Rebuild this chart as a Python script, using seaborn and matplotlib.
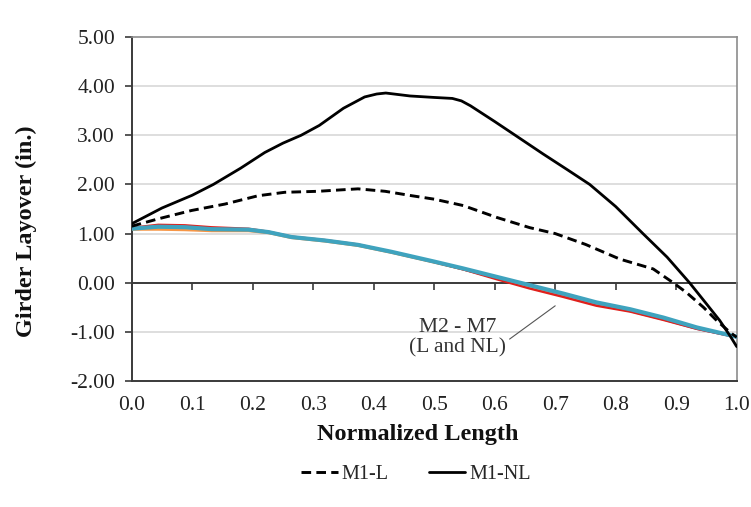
import numpy as np
import pandas as pd
import matplotlib
matplotlib.use("Agg")
import matplotlib.pyplot as plt
import seaborn as sns

# ---- data ----
m1nl_x = [0.0, 0.05, 0.10, 0.135, 0.18, 0.22, 0.25, 0.28, 0.31, 0.35, 0.385, 0.405, 0.42, 0.44, 0.46, 0.50,
          0.53, 0.545, 0.56, 0.60, 0.634, 0.68, 0.72, 0.757, 0.80, 0.845, 0.885, 0.922, 0.95, 0.972, 0.99, 1.0]
m1nl_y = [1.20, 1.52, 1.78, 2.00, 2.33, 2.65, 2.84, 3.00, 3.20, 3.55, 3.78, 3.84, 3.86, 3.83, 3.80, 3.77,
          3.75, 3.70, 3.60, 3.28, 3.00, 2.62, 2.30, 2.00, 1.55, 1.00, 0.52, 0.00, -0.43, -0.77, -1.10, -1.30]

m1l_x = [0.0, 0.044, 0.099, 0.154, 0.209, 0.253, 0.308, 0.347, 0.374, 0.419, 0.463, 0.50, 0.548,
         0.603, 0.658, 0.70, 0.75, 0.807, 0.862, 0.895, 0.917, 0.945, 0.967, 0.989, 1.0]
m1l_y = [1.15, 1.30, 1.47, 1.60, 1.77, 1.84, 1.86, 1.89, 1.91, 1.86, 1.77, 1.70, 1.57,
         1.33, 1.12, 1.00, 0.78, 0.48, 0.28, 0.00, -0.20, -0.50, -0.77, -1.01, -1.11]

grp_x = [0.0, 0.044, 0.088, 0.132, 0.193, 0.226, 0.264, 0.319, 0.374, 0.429, 0.50, 0.548,
         0.603, 0.658, 0.713, 0.768, 0.824, 0.879, 0.934, 1.0]
m2_y = [1.10, 1.13, 1.12, 1.08, 1.07, 1.02, 0.93, 0.86, 0.76, 0.62, 0.42, 0.28, 0.10, -0.08, -0.25, -0.43, -0.56, -0.73, -0.93, -1.10]
m3_y = [1.12, 1.18, 1.17, 1.13, 1.10, 1.04, 0.94, 0.87, 0.78, 0.63, 0.42, 0.27, 0.07, -0.12, -0.29, -0.47, -0.59, -0.76, -0.94, -1.11]
m4_y = [1.10, 1.12, 1.11, 1.08, 1.07, 1.02, 0.92, 0.85, 0.76, 0.62, 0.42, 0.28, 0.11, -0.07, -0.23, -0.42, -0.55, -0.72, -0.92, -1.10]
m5_y = [1.11, 1.14, 1.13, 1.10, 1.08, 1.03, 0.93, 0.86, 0.77, 0.62, 0.42, 0.27, 0.09, -0.09, -0.26, -0.44, -0.58, -0.75, -0.94, -1.11]
m6_y = [1.08, 1.08, 1.07, 1.05, 1.05, 1.01, 0.91, 0.84, 0.75, 0.61, 0.41, 0.27, 0.10, -0.08, -0.24, -0.42, -0.55, -0.72, -0.92, -1.10]
m7_y = [1.10, 1.14, 1.13, 1.09, 1.08, 1.03, 0.93, 0.86, 0.77, 0.63, 0.43, 0.29, 0.12, -0.05, -0.22, -0.40, -0.54, -0.71, -0.91, -1.10]

group_names = ["M2", "M3", "M4", "M5", "M6", "M7"]
group_vals = [m2_y, m3_y, m4_y, m5_y, m6_y, m7_y]
group_colors = ["#4F81BD", "#E0201B", "#9BBB59", "#8064A2", "#F79646", "#3FA3BE"]

y_ticks = [5, 4, 3, 2, 1, 0, -1, -2]
x_ticks = [0.0, 0.1, 0.2, 0.3, 0.4, 0.5, 0.6, 0.7, 0.8, 0.9, 1.0]

# ---- style ----
sns.set_style("white")
plt.rcParams["font.family"] = ["Liberation Serif", "DejaVu Serif"]

fig = plt.figure(figsize=(7.51, 5.07), dpi=100)
ax = fig.add_axes([131.7 / 751, 1 - 381 / 507, 605 / 751, 344 / 507])

# M2-M7 group
for name, vals, col in zip(group_names, group_vals, group_colors):
    df = pd.DataFrame({"x": grp_x, "y": vals})
    lw = 3.0 if name == "M7" else 1.6
    z = 4 if name == "M7" else 3
    if name == "M3":
        z = 3.5
    sns.lineplot(data=df, x="x", y="y", ax=ax, color=col, lw=lw, zorder=z, legend=False)

df_l = pd.DataFrame({"x": m1l_x, "y": m1l_y})
df_nl = pd.DataFrame({"x": m1nl_x, "y": m1nl_y})
sns.lineplot(data=df_l, x="x", y="y", ax=ax, color="black", lw=2.1, zorder=5,
             label="M1-L", legend=False, linestyle=(0, (3.3, 1.8)))
sns.lineplot(data=df_nl, x="x", y="y", ax=ax, color="black", lw=2.0, zorder=5,
             label="M1-NL", legend=False)

ax.set_xlim(0, 1)
ax.set_ylim(-2, 5)
ax.set_yticks(y_ticks)
ax.set_yticklabels([f"{v:.2f}" for v in y_ticks])
ax.set_xticks(x_ticks)
ax.set_xticklabels([f"{v:.1f}" for v in x_ticks])

ax.grid(False)
for v in y_ticks:
    if v not in (0, -2, 5):
        ax.axhline(v, color="#D4D4D4", lw=1.1, zorder=1)

for s in ["top", "right"]:
    ax.spines[s].set_color("#8C8C8C")
    ax.spines[s].set_linewidth(1.2)
for s in ["left", "bottom"]:
    ax.spines[s].set_color("#3A3A3A")
    ax.spines[s].set_linewidth(1.4)

ax.tick_params(axis="y", which="both", left=True, length=5, width=1.2, color="#3A3A3A",
               direction="out", pad=7, labelsize=15.5, labelcolor="#222222")
ax.tick_params(axis="x", which="both", bottom=False, length=0, pad=11,
               labelsize=15.5, labelcolor="#222222")

# zero axis with tick marks
sec = ax.secondary_xaxis(2 / 7)
sec.set_xticks(x_ticks)
sec.tick_params(axis="x", direction="out", length=5, width=1.2, color="#3A3A3A",
                labelbottom=False, labeltop=False)
sec.spines["bottom"].set_color("#3A3A3A")
sec.spines["bottom"].set_linewidth(1.4)

ax.set_xlabel("Normalized Length", fontsize=17.5, fontweight="bold", color="#111111")
ax.set_ylabel("Girder Layover (in.)", fontsize=17.5, fontweight="bold", color="#111111")
ax.xaxis.set_label_coords(0.473, -0.125)
ax.yaxis.set_label_coords(-0.157, 0.436)

ax.annotate("M2 - M7\n(L and NL)", xy=(0.70, -0.47), xytext=(0.539, -1.12),
            ha="center", va="center", fontsize=15.5, color="#333333", linespacing=1.05,
            arrowprops=dict(arrowstyle="-", color="#555555", lw=0.8,
                            shrinkA=0, shrinkB=0, relpos=(0.97, 0.35)))

handles, labels = ax.get_legend_handles_labels()
handles = [h for h, l in zip(handles, labels) if l in ("M1-L", "M1-NL")]
labels = [l for l in labels if l in ("M1-L", "M1-NL")]
fig.legend(handles, labels, loc="center", bbox_to_anchor=(0.554, 0.065), ncol=2,
           frameon=False, fontsize=14.5, handlelength=1.8, handletextpad=0.2,
           columnspacing=2.0)

fig.savefig("out.png", dpi=100)
